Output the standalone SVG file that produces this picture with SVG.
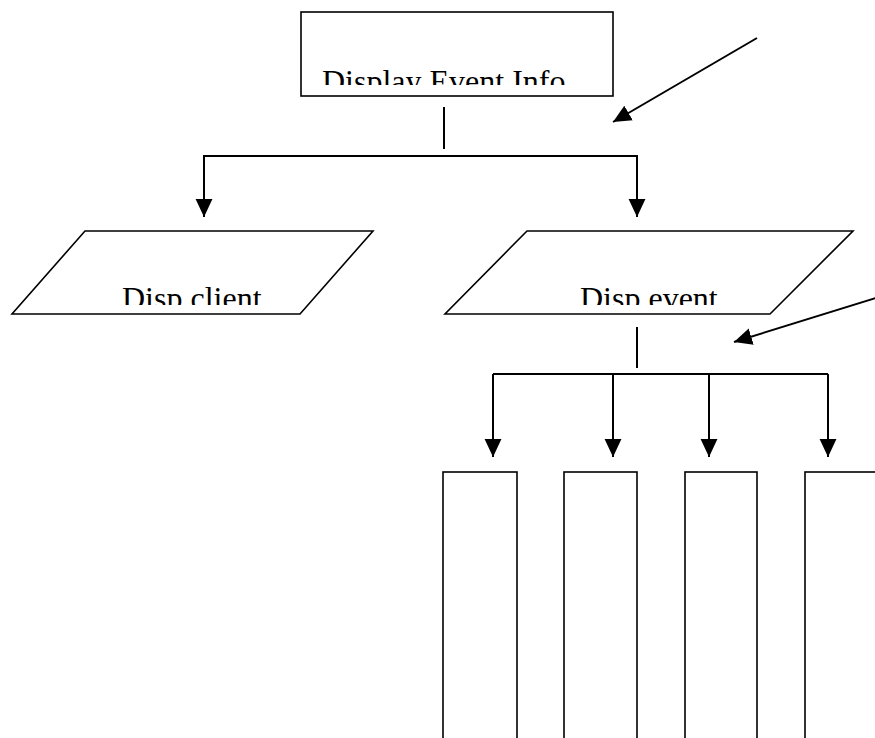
<svg xmlns="http://www.w3.org/2000/svg" width="875" height="738" viewBox="0 0 875 738">
<style>
.shape{fill:#fff;stroke:#000;stroke-width:1.6}
.conn{fill:none;stroke:#000;stroke-width:2}
.lbl{font-family:"Liberation Serif","Times New Roman",serif;font-size:32px;fill:#000}
</style>
<defs>
<marker id="arr" markerUnits="userSpaceOnUse" markerWidth="18" markerHeight="18" viewBox="0 0 16 16" refX="16" refY="8" orient="auto">
<path d="M0,0.5 L16,8 L0,15.5 Z" fill="#000"/>
</marker>
<clipPath id="c1"><rect x="300" y="10" width="320" height="75"/></clipPath>
<clipPath id="c2"><rect x="0" y="230" width="875" height="75"/></clipPath>
</defs>
<rect width="875" height="738" fill="#fff"/>
<g id="display-event-info">
<rect class="shape" x="301" y="12" width="312" height="84"/>
<text class="lbl" x="322" y="92" clip-path="url(#c1)">Display Event Info</text>
</g>
<g id="disp-client">
<polygon class="shape" points="85,231 373,231 300,314 12,314"/>
<text class="lbl" x="122" y="309" clip-path="url(#c2)">Disp client</text>
</g>
<g id="disp-event">
<polygon class="shape" points="527,231 853,231 770,314 445,314"/>
<text class="lbl" x="580" y="309" clip-path="url(#c2)">Disp event</text>
</g>
<g id="box1"><rect class="shape" x="443" y="472" width="74" height="300"/></g>
<g id="box2"><rect class="shape" x="564" y="472" width="73" height="300"/></g>
<g id="box3"><rect class="shape" x="685" y="472" width="72" height="300"/></g>
<g id="box4"><rect class="shape" x="805" y="472" width="90" height="300"/></g>
<g id="connectors">
<line class="conn" x1="444" y1="107" x2="444" y2="149"/>
<polyline class="conn" points="204,217 204,156 637,156 637,217" style="marker-end:none"/>
<line class="conn" x1="204" y1="156" x2="204" y2="217" marker-end="url(#arr)"/>
<line class="conn" x1="637" y1="156" x2="637" y2="217" marker-end="url(#arr)"/>
<line class="conn" x1="757" y1="38" x2="613" y2="122" marker-end="url(#arr)"/>
<line class="conn" x1="637" y1="327" x2="637" y2="368"/>
<line class="conn" x1="493" y1="374" x2="828" y2="374"/>
<line class="conn" x1="493" y1="374" x2="493" y2="457" marker-end="url(#arr)"/>
<line class="conn" x1="613" y1="374" x2="613" y2="457" marker-end="url(#arr)"/>
<line class="conn" x1="709" y1="374" x2="709" y2="457" marker-end="url(#arr)"/>
<line class="conn" x1="828" y1="374" x2="828" y2="457" marker-end="url(#arr)"/>
<line class="conn" x1="876" y1="298" x2="734" y2="342" marker-end="url(#arr)"/>
</g>
</svg>
